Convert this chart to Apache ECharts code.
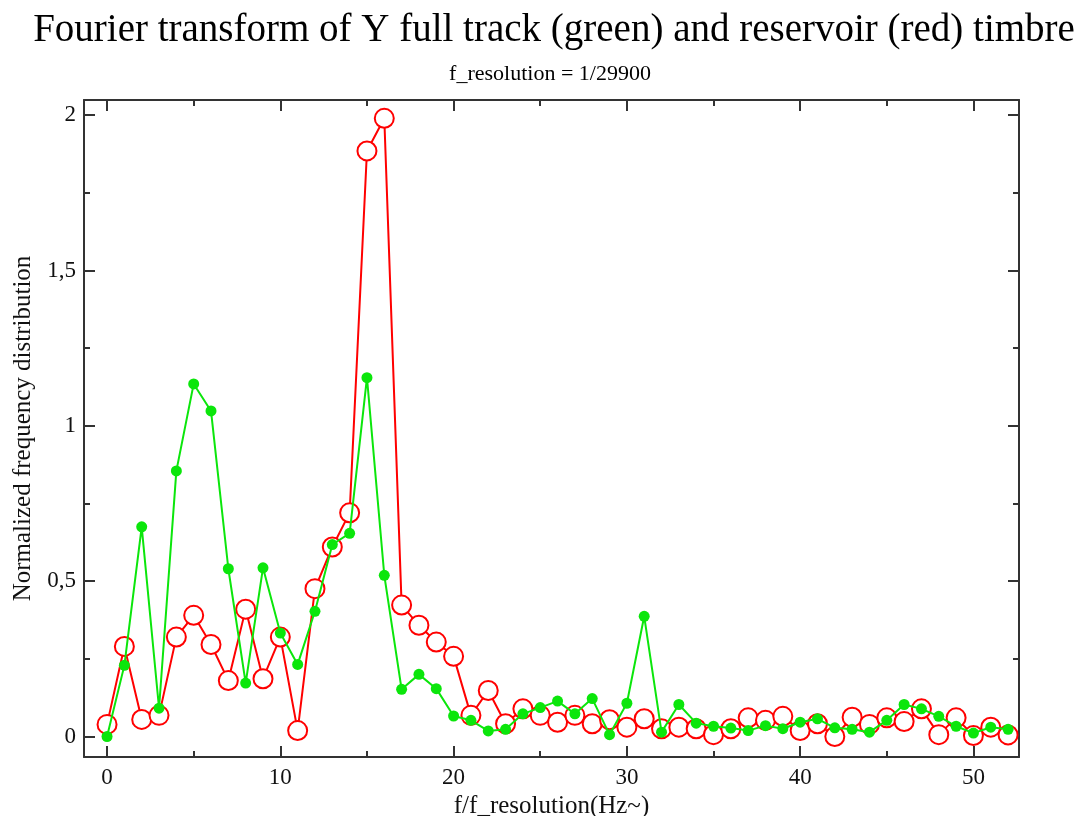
<!DOCTYPE html>
<html>
<head>
<meta charset="utf-8">
<script src="https://cdn.jsdelivr.net/npm/echarts@6/dist/echarts.min.js"></script>
<style>
  html, body { margin: 0; padding: 0; background: #fff; }
  #chart { width: 1079px; height: 816px; }
</style>
</head>
<body>
<div id="chart"></div>
<script>
// ---- data ----
const freq = [0,1,2,3,4,5,6,7,8,9,10,11,12,13,14,15,16,17,18,19,20,21,22,23,24,25,26,27,28,29,30,31,32,33,34,35,36,37,38,39,40,41,42,43,44,45,46,47,48,49,50,51,52];
const reservoirRed = [0.039, 0.29, 0.055, 0.068, 0.32, 0.39, 0.296, 0.18, 0.41, 0.186, 0.32, 0.019, 0.476, 0.61, 0.72, 1.885, 1.99, 0.423, 0.358, 0.304, 0.258, 0.068, 0.148, 0.041, 0.089, 0.068, 0.046, 0.068, 0.041, 0.054, 0.03, 0.057, 0.025, 0.03, 0.025, 0.006, 0.025, 0.06, 0.052, 0.065, 0.019, 0.041, 0.0, 0.062, 0.039, 0.06, 0.048, 0.089, 0.006, 0.06, 0.003, 0.03, 0.005];
const fullTrackGreen = [0, 0.229, 0.675, 0.091, 0.855, 1.135, 1.048, 0.54, 0.172, 0.543, 0.333, 0.232, 0.403, 0.618, 0.654, 1.155, 0.519, 0.152, 0.2, 0.154, 0.066, 0.052, 0.018, 0.023, 0.073, 0.093, 0.114, 0.073, 0.122, 0.006, 0.107, 0.387, 0.014, 0.103, 0.043, 0.033, 0.027, 0.019, 0.035, 0.025, 0.046, 0.057, 0.028, 0.023, 0.014, 0.052, 0.103, 0.089, 0.065, 0.033, 0.011, 0.03, 0.023];
const xMajorTicks = [0, 10, 20, 30, 40, 50];
const xMinorTicks = [5, 15, 25, 35, 45];
const yMajorTicks = [0, 0.5, 1, 1.5, 2];
const yMinorTicks = [0.25, 0.75, 1.25, 1.75];
const xRange = [-1.33, 52.63];
const yRange = [-0.066, 2.049];

const titleText = 'Fourier transform of Y full track (green) and reservoir (red) timbre';
const subtitleText = 'f_resolution = 1/29900';
const xName = 'f/f_resolution(Hz~)';
const yName = 'Normalized frequency distribution';

// ---- chart ----
const FONT = '"Liberation Serif", "DejaVu Serif", serif';
const AXIS_COLOR = '#333';
const chart = echarts.init(document.getElementById('chart'), null, { renderer: 'canvas' });

function xAxisDef(position, ticks, len, showLine, showLabel, extra) {
  return Object.assign({
    type: 'value', position: position, min: xRange[0], max: xRange[1],
    axisLine: { show: showLine, onZero: false, lineStyle: { color: AXIS_COLOR, width: 2 } },
    axisTick: { show: true, inside: true, length: len, customValues: ticks, lineStyle: { color: AXIS_COLOR, width: 2 } },
    axisLabel: { show: showLabel, customValues: ticks, fontFamily: FONT, fontSize: 23, color: '#111', margin: 9 },
    splitLine: { show: false }
  }, extra || {});
}
function yAxisDef(position, ticks, len, showLine, showLabel, extra) {
  return Object.assign({
    type: 'value', position: position, min: yRange[0], max: yRange[1],
    axisLine: { show: showLine, onZero: false, lineStyle: { color: AXIS_COLOR, width: 2 } },
    axisTick: { show: true, inside: true, length: len, customValues: ticks, lineStyle: { color: AXIS_COLOR, width: 2 } },
    axisLabel: { show: showLabel, customValues: ticks, fontFamily: FONT, fontSize: 23, color: '#111', margin: 8,
      formatter: v => String(v).replace('.', ',') },
    splitLine: { show: false }
  }, extra || {});
}

const option = {
  backgroundColor: '#fff',
  animation: false,
  title: [
    { text: titleText, left: 549, top: 6, textAlign: 'center',
      textStyle: { fontFamily: FONT, fontSize: 39, fontWeight: 'normal', color: '#000' } },
    { text: subtitleText, left: 545, top: 58, textAlign: 'center',
      textStyle: { fontFamily: FONT, fontSize: 22, fontWeight: 'normal', color: '#000' } }
  ],
  grid: { left: 84, right: 60, top: 100, bottom: 59, containLabel: false, outerBoundsMode: 'none' },
  xAxis: [
    xAxisDef('bottom', xMajorTicks, 11, true, true, {
      name: xName, nameLocation: 'middle', nameGap: 27,
      nameTextStyle: { fontFamily: FONT, fontSize: 25, color: '#111' } }),
    xAxisDef('bottom', xMinorTicks, 6, false, false),
    xAxisDef('top', xMajorTicks, 11, true, false),
    xAxisDef('top', xMinorTicks, 6, false, false)
  ],
  yAxis: [
    yAxisDef('left', yMajorTicks, 11, true, true, {
      name: yName, nameLocation: 'middle', nameGap: 45,
      nameTextStyle: { fontFamily: FONT, fontSize: 25, color: '#111' } }),
    yAxisDef('left', yMinorTicks, 6, false, false),
    yAxisDef('right', yMajorTicks, 11, true, false),
    yAxisDef('right', yMinorTicks, 6, false, false)
  ],
  series: [
    {
      name: 'reservoir', type: 'line', xAxisIndex: 0, yAxisIndex: 0,
      data: freq.map((f, i) => [f, reservoirRed[i]]),
      symbol: 'emptyCircle', symbolSize: 19,
      lineStyle: { color: '#ff0000', width: 2 },
      itemStyle: { color: '#ff0000', borderColor: '#ff0000', borderWidth: 1.8 },
      z: 2
    },
    {
      name: 'full track', type: 'line', xAxisIndex: 0, yAxisIndex: 0,
      data: freq.map((f, i) => [f, fullTrackGreen[i]]),
      symbol: 'circle', symbolSize: 11,
      lineStyle: { color: '#0be60b', width: 2 },
      itemStyle: { color: '#0be60b' },
      z: 3
    }
  ]
};
chart.setOption(option);
</script>
</body>
</html>
